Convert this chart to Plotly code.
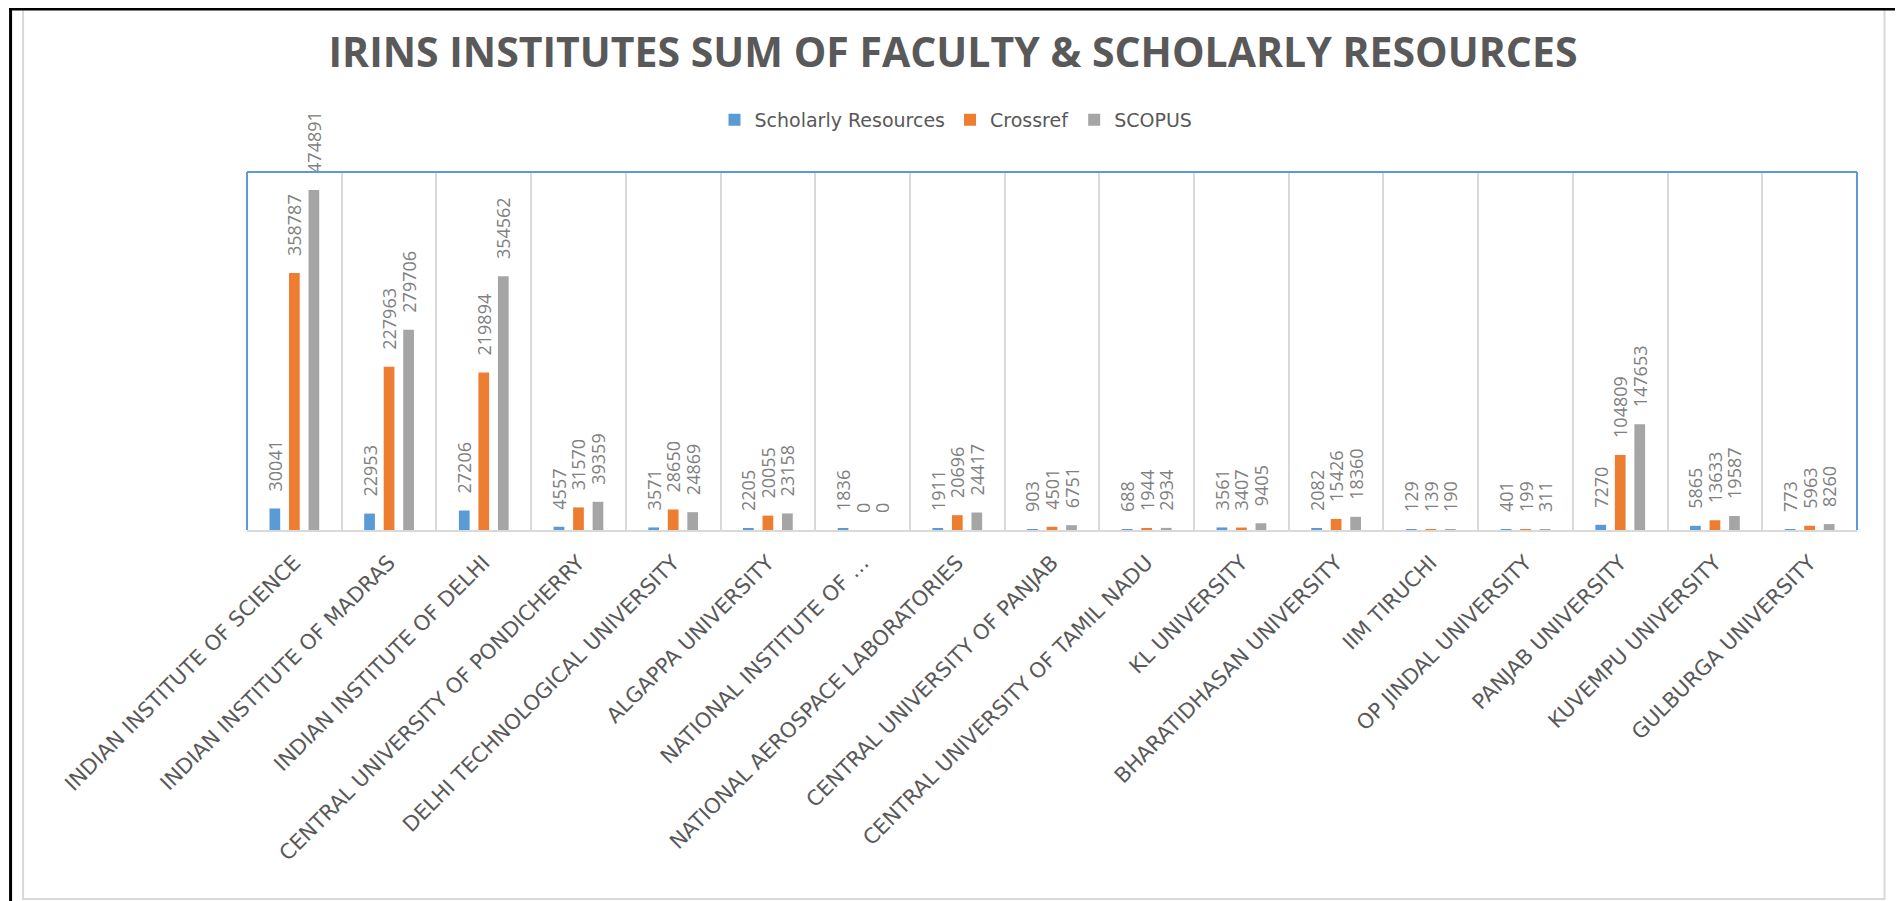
import plotly.graph_objects as go

categories = [
    "INDIAN INSTITUTE OF SCIENCE",
    "INDIAN INSTITUTE OF MADRAS",
    "INDIAN INSTITUTE OF DELHI",
    "CENTRAL UNIVERSITY OF PONDICHERRY",
    "DELHI TECHNOLOGICAL UNIVERSITY",
    "ALGAPPA UNIVERSITY",
    "NATIONAL INSTITUTE OF …",
    "NATIONAL AEROSPACE LABORATORIES",
    "CENTRAL UNIVERSITY OF PANJAB",
    "CENTRAL UNIVERSITY OF TAMIL NADU",
    "KL UNIVERSITY",
    "BHARATIDHASAN UNIVERSITY",
    "IIM TIRUCHI",
    "OP JINDAL UNIVERSITY",
    "PANJAB UNIVERSITY",
    "KUVEMPU UNIVERSITY",
    "GULBURGA UNIVERSITY",
]
scholarly_resources = [30041, 22953, 27206, 4557, 3571, 2205, 1836, 1911, 903, 688,
                       3561, 2082, 129, 401, 7270, 5865, 773]
crossref = [358787, 227963, 219894, 31570, 28650, 20055, 0, 20696, 4501, 1944,
            3407, 15426, 139, 199, 104809, 13633, 5963]
scopus = [474891, 279706, 354562, 39359, 24869, 23158, 0, 24417, 6751, 2934,
          9405, 18360, 190, 311, 147653, 19587, 8260]

series = [
    ("Scholarly Resources", scholarly_resources, "#5B9BD5"),
    ("Crossref", crossref, "#ED7D31"),
    ("SCOPUS", scopus, "#A5A5A5"),
]

# page body offsets the figure by 8px; work in screen pixels and convert
OFF = 8
W, H = 1903 - OFF, 901 - OFF
PLOT_L, PLOT_R, PLOT_T, PLOT_B = 247, 1857.5, 172, 530  # screen px
L = PLOT_L - OFF
T = PLOT_T - OFF
R = W - (PLOT_R - OFF)
B = H - (PLOT_B - OFF)
PW, PH = W - L - R, H - T - B


def px(x):
    return (x - OFF - L) / PW


def py(y):
    return (H - B - (y - OFF)) / PH


fig = go.Figure()
for name, vals, col in series:
    fig.add_trace(go.Bar(
        name=name, x=categories, y=vals, marker_color=col,
        marker_line_width=0,
        text=vals, texttemplate="\u00a0\u00a0\u00a0%{text}",
        textposition="outside", textangle=-90, constraintext="none",
        cliponaxis=False,
        textfont=dict(family="Open Sans", size=18, color="#808080"),
    ))

shapes = [
    # plot-area border (top, left, right) in blue
    dict(type="line", xref="paper", yref="paper", x0=0, x1=1, y0=1, y1=1,
         line=dict(color="#5B9BD5", width=2), layer="above"),
    dict(type="line", xref="paper", yref="paper", x0=0, x1=0, y0=0, y1=1,
         line=dict(color="#5B9BD5", width=2), layer="above"),
    dict(type="line", xref="paper", yref="paper", x0=1, x1=1, y0=0, y1=1,
         line=dict(color="#5B9BD5", width=2), layer="above"),
    # chart frame (gray)
    dict(type="rect", xref="paper", yref="paper", x0=px(23), x1=px(1885),
         y0=py(899), y1=py(9), line=dict(color="#D9D9D9", width=2), layer="below"),
    # outer black frame (top, left, right)
    dict(type="line", xref="paper", yref="paper", x0=px(9), x1=px(1899),
         y0=py(9), y1=py(9), line=dict(color="#000000", width=3), layer="above"),
    dict(type="line", xref="paper", yref="paper", x0=px(10.5), x1=px(10.5),
         y0=py(8), y1=py(905), line=dict(color="#000000", width=3), layer="above"),
    dict(type="line", xref="paper", yref="paper", x0=px(1898), x1=px(1898),
         y0=py(8), y1=py(905), line=dict(color="#000000", width=3), layer="above"),
]

fig.update_layout(
    width=W, height=H,
    margin=dict(l=L, r=R, t=T, b=B, pad=0),
    paper_bgcolor="white", plot_bgcolor="white",
    barmode="group", bargap=0.382, bargroupgap=0.45,
    title=dict(text="<b>IRINS INSTITUTES SUM OF FACULTY &amp; SCHOLARLY RESOURCES</b>",
               x=(953 - OFF) / W, xref="container", xanchor="center",
               y=1 - (53 - OFF) / H, yref="container", yanchor="middle",
               font=dict(family="Open Sans", size=41, color="#595959")),
    legend=dict(orientation="h", x=(956 - OFF) / W, xref="container", xanchor="center",
                y=1 - (120 - OFF) / H, yref="container", yanchor="middle",
                font=dict(family="DejaVu Sans", size=19, color="#595959"),
                itemwidth=30, traceorder="normal"),
    shapes=shapes,
    showlegend=True,
)
fig.update_xaxes(
    type="category", tickson="boundaries", showgrid=True,
    gridcolor="#D9D9D9", gridwidth=1.5,
    showline=True, linecolor="#D9D9D9", linewidth=2,
    ticks="", tickangle=-45, ticklabelstandoff=10,
    tickfont=dict(family="DejaVu Sans", size=21, color="#595959"),
)
fig.update_yaxes(range=[0, 500000], showgrid=False, showticklabels=False,
                 zeroline=False, showline=False)

fig.write_html("out.html")
